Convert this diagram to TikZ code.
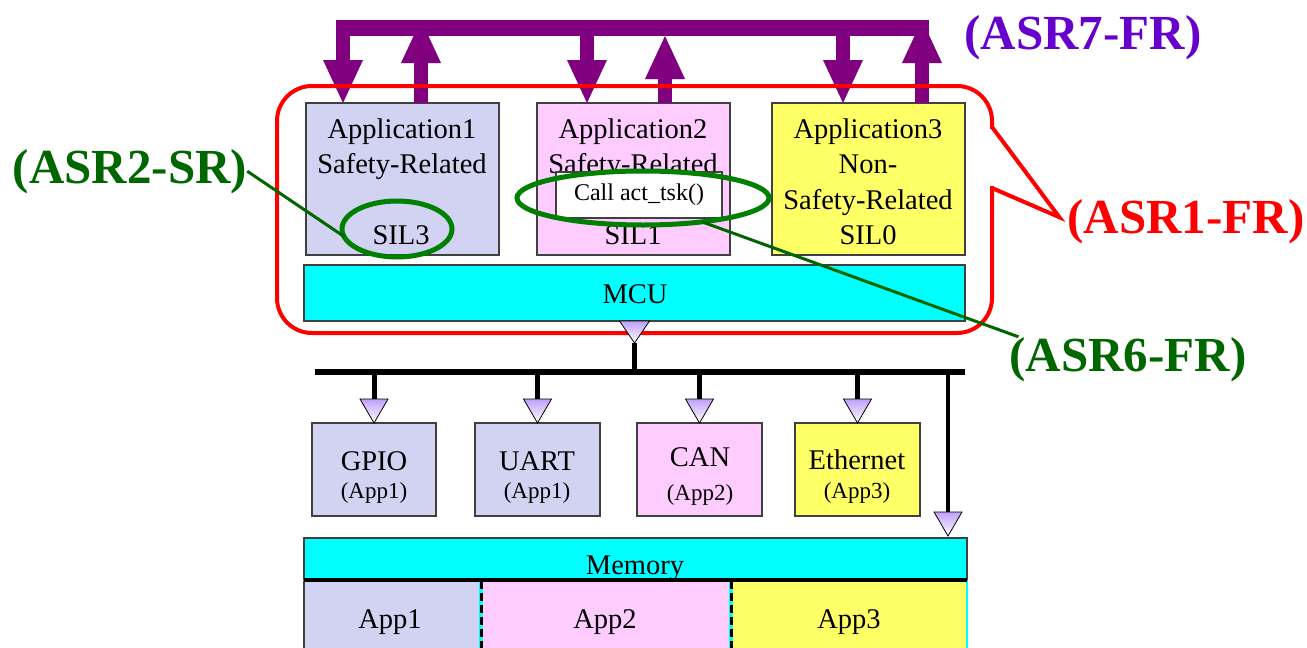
\documentclass[tikz,border=0pt]{standalone}
\usepackage{fontspec}
\setmainfont{Liberation Serif}
\usetikzlibrary{arrows.meta,calc,shapes.geometric}
\definecolor{appA}{RGB}{210,210,242}
\definecolor{appB}{RGB}{255,204,255}
\definecolor{appC}{RGB}{255,255,102}
\definecolor{cyanA}{RGB}{0,255,255}
\definecolor{arrpurple}{RGB}{128,0,128}
\definecolor{asrviolet}{RGB}{102,0,204}
\definecolor{asrgreen}{RGB}{0,102,0}
\definecolor{ellgreen}{RGB}{0,128,0}
\definecolor{triTop}{RGB}{190,160,250}
\tikzset{
  box/.style={draw=black!75, line width=1.2pt, inner sep=0pt, outer sep=0pt, anchor=north west},
  lbl/.style={anchor=base, inner sep=0pt, font=\fontsize{28.5}{30}\selectfont},
  smalllbl/.style={anchor=base, inner sep=0pt, font=\fontsize{23}{25}\selectfont},
  asr/.style={anchor=base, inner sep=0pt, font=\fontsize{49}{52}\selectfont\bfseries},
  fat/.style={arrpurple, line width=14pt, -{Triangle[width=40pt,length=43pt,line width=0pt]}},
  ring/.style={ellipse, draw=ellgreen, line width=5pt, inner sep=0pt, outer sep=0pt},
  wire/.style={line width=5pt},
  gline/.style={asrgreen, line width=3pt},
  ptri/.pic={\shade[draw=black, line width=0.8pt, top color=triTop, bottom color=white] (-14,0) -- (14,0) -- (0,24) -- cycle;},
  mtri/.pic={\shade[draw=black, line width=0.8pt, top color=triTop, bottom color=white] (-15,0) -- (15,0) -- (0,22) -- cycle;}
}
\begin{document}
\begin{tikzpicture}[x=1pt,y=-1pt]
\useasboundingbox (0,0) rectangle (1307,648);
\clip (0,0) rectangle (1307,648);

% application boxes
\node[box, fill=appA, minimum width=193pt, minimum height=152pt] (app1) at (306,103) {};
\node[box, fill=appB, minimum width=193pt, minimum height=152pt] (app2) at (537,103) {};
\node[box, fill=appC, minimum width=193pt, minimum height=152pt] (app3) at (772,103) {};

\node[lbl] (a1l1) at (402,138) {Application1};
\node[lbl] (a1l2) at (402,173) {Safety-Related};
\node[lbl] (a1l3) at (401,244) {SIL3};
\node[lbl] (a2l1) at (633,138) {Application2};
\node[lbl] (a2l2) at (633,173) {Safety-Related};
\node[lbl] (a2l3) at (633,244) {SIL1};
\node[lbl] (a3l1) at (868,138) {Application3};
\node[lbl] (a3l2) at (868,173) {Non-};
\node[lbl] (a3l3) at (868,209) {Safety-Related};
\node[lbl] (a3l4) at (868,244) {SIL0};

\node[draw=black!75, line width=1.2pt, fill=white, minimum width=166pt, minimum height=46pt, inner sep=0pt, font=\fontsize{24}{26}\selectfont] (call) at (639,195) {Call act\_tsk()};

\node[ring, minimum width=110pt, minimum height=56pt] (e1) at (397,229) {};
\node[ring, minimum width=252pt, minimum height=54pt] (e2) at (643,198) {};

% MCU
\node[box, fill=cyanA, minimum width=661pt, minimum height=56pt] (mcu) at (304,265) {};
\node[lbl] (mcut) at (635,303) {MCU};

% purple arrows
\node[fill=arrpurple, minimum width=593pt, minimum height=16pt, inner sep=0pt, outer sep=0pt, anchor=north west] (bar) at (336,20) {};
\coordinate (xd1) at (343,0);
\coordinate (xu1) at (421,0);
\coordinate (xd2) at (587,0);
\coordinate (xu2) at (665,0);
\coordinate (xd3) at (843,0);
\coordinate (xu3) at (922,0);
\draw[fat] (xd1 |- bar.center) -- (xd1 |- app1.north);
\draw[fat] (xd2 |- bar.center) -- (xd2 |- app2.north);
\draw[fat] (xd3 |- bar.center) -- (xd3 |- app3.north);
\draw[fat] (xu1 |- app1.north) -- (xu1 |- bar.north);
\draw[fat] (xu2 |- app2.north) -- (xu2 |- bar.south);
\draw[fat] (xu3 |- app3.north) -- (xu3 |- bar.north);

% red frame with callout
\node[draw=red, line width=4pt, rounded corners=35pt, minimum width=715pt, minimum height=247pt, inner sep=0pt, outer sep=0pt, anchor=north west] (frame) at (277,86) {};
\node[asr, text=red] (asr1) at (1186,233) {(ASR1-FR)};
\coordinate (ctip) at ($(asr1.west)+(-8,-4)$);
\fill[white] ($(frame.north east)+(-3,43)$) rectangle ($(frame.north east)+(3,100)$);
\draw[red, line width=4pt, line join=miter] ($(frame.north east)+(0,41)$) -- (ctip) -- ($(frame.north east)+(0,102)$);

% bus
\coordinate (busL) at (315,372);
\coordinate (busR) at (965,372);
\pic at (mcu.south) {mtri};
\coordinate (mtip) at ($(mcu.south)+(0,22)$);
\draw[wire] (mtip) -- (mtip |- busL);
\draw[line width=6pt] (busL) -- (busR);

% peripherals
\node[box, fill=appA, minimum width=124pt, minimum height=93pt] (gpio) at (312,423) {};
\node[box, fill=appA, minimum width=125pt, minimum height=93pt] (uart) at (475,423) {};
\node[box, fill=appB, minimum width=125pt, minimum height=93pt] (can) at (637,423) {};
\node[box, fill=appC, minimum width=125pt, minimum height=93pt] (eth) at (795,423) {};
\foreach \p in {gpio,uart,can,eth}{
  \draw[wire] (\p.north |- busL) -- ($(\p.north)-(0,24)$);
  \pic at ($(\p.north)-(0,24)$) {ptri};
}
\node[lbl] (gpiot) at (374,470) {GPIO};
\node[smalllbl] (gpios) at (374,498) {(App1)};
\node[lbl] (uartt) at (537,470) {UART};
\node[smalllbl] (uarts) at (537,498) {(App1)};
\node[lbl] (cant) at (700,466) {CAN};
\node[smalllbl] (cans) at (700,500) {(App2)};
\node[lbl] (etht) at (857,469) {Ethernet};
\node[smalllbl] (eths) at (857,498) {(App3)};

% memory
\node[box, fill=cyanA, minimum width=663pt, minimum height=42pt] (mem) at (304,538) {};
\node[lbl] (memt) at (635,574) {Memory};
\coordinate (mdrop) at (948,538);
\draw[line width=3.5pt] (mdrop |- busL) -- ($(mdrop)-(0,26)$);
\pic at ($(mdrop)-(0,26)$) {ptri};
\node[box, draw=cyanA, fill=appA, minimum width=177pt, minimum height=90pt] (m1) at (304,581) {};
\node[box, draw=cyanA, fill=appB, minimum width=250pt, minimum height=90pt] (m2) at (481,581) {};
\node[box, draw=cyanA, fill=appC, minimum width=236pt, minimum height=90pt] (m3) at (731,581) {};
\draw[black!75, line width=1.2pt] (m1.north west) -- (m1.south west);
\foreach \p in {m2,m3}{
  \draw[cyanA, line width=3.5pt] (\p.north west) -- (\p.south west);
  \draw[black, line width=3pt, dash pattern=on 8pt off 4pt] (\p.north west) -- (\p.south west);
}
\draw[line width=4pt] (mem.south west) -- (mem.south east);
\node[lbl] (m1t) at (390,628) {App1};
\node[lbl] (m2t) at (605,628) {App2};
\node[lbl] (m3t) at (849,628) {App3};

% labels and green leaders
\node[asr, text=asrviolet] (asr7) at (1083,49) {(ASR7-FR)};
\node[asr, text=asrgreen] (asr2) at (130,183) {(ASR2-SR)};
\node[asr, text=asrgreen] (asr6) at (1128,371) {(ASR6-FR)};
\draw[gline] (asr2.east) -- (e1.188);
\draw[gline] (e2.-22) -- ($(asr6.north west)+(9,0)$);
\end{tikzpicture}
\end{document}
